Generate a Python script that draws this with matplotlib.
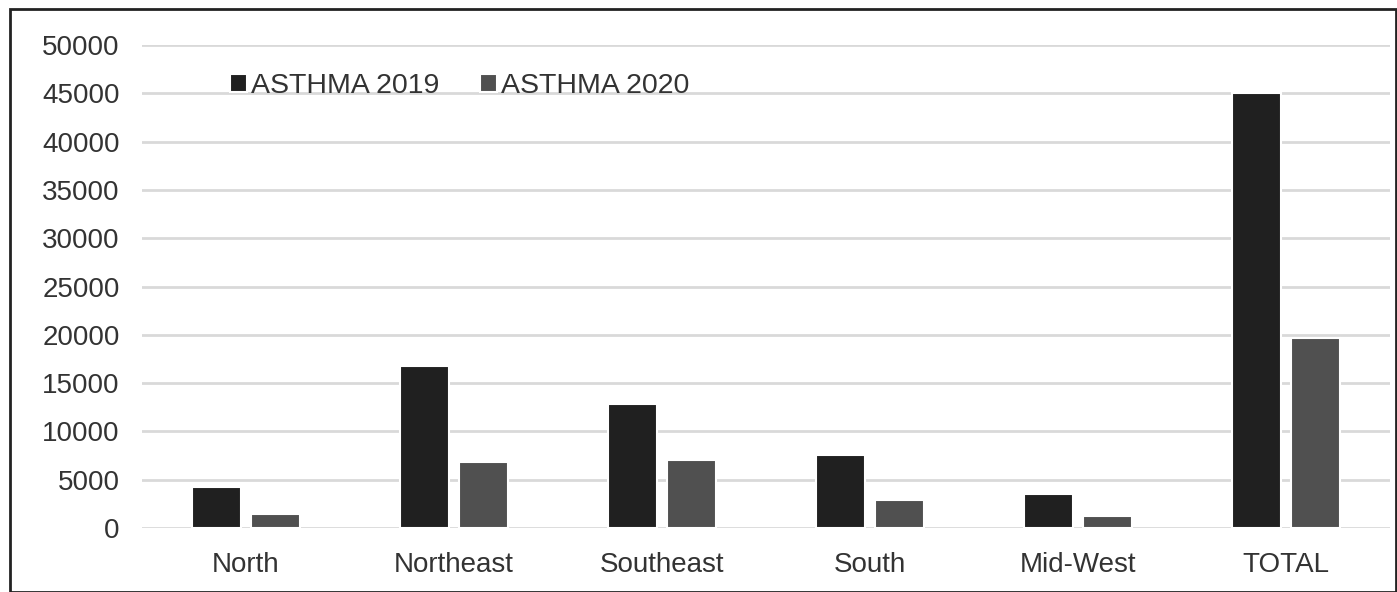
"""
Asthma cases by region, 2019 vs 2020
"""

import matplotlib.pyplot as plt
import numpy as np
from matplotlib.patches import Rectangle

regions = ['North', 'Northeast', 'Southeast', 'South', 'Mid-West', 'TOTAL']
asthma_2019 = [4300, 16800, 12850, 7550, 3500, 45000]
asthma_2020 = [1450, 6850, 7050, 2900, 1250, 19650]
yticks = [0, 5000, 10000, 15000, 20000, 25000, 30000, 35000, 40000, 45000, 50000]

plt.rcParams['font.family'] = ['Liberation Sans', 'DejaVu Sans']

fig = plt.figure(figsize=(13.97, 5.92), dpi=100)
ax = fig.add_axes([0.1016, 0.108, 0.8934, 0.816])

x = np.arange(len(regions))
w = 0.235
ax.bar(x - 0.142, asthma_2019, w, color='#202020', edgecolor='white', linewidth=1.5,
       label='ASTHMA 2019', zorder=3)
ax.bar(x + 0.142, asthma_2020, w, color='#505050', edgecolor='white', linewidth=1.5,
       label='ASTHMA 2020', zorder=3)

# Format the plot
ax.set_xlim(-0.5, len(regions) - 0.5)
ax.set_ylim(0, 50000)
ax.set_yticks(yticks)
ax.set_xticks(x)
ax.set_xticklabels(regions)
ax.tick_params(axis='both', length=0, labelsize=20, labelcolor='#333333')
ax.tick_params(axis='x', pad=17)
ax.tick_params(axis='y', pad=16)
ax.grid(axis='y', color='#d9d9d9', linewidth=2, zorder=0)
for s in ax.spines.values():
    s.set_visible(False)

ax.legend(loc='upper left', bbox_to_anchor=(0.05, 0.995), ncol=2, frameon=False,
          fontsize=20.5, handlelength=0.6, handleheight=0.6, handletextpad=0.15,
          columnspacing=1.4, labelcolor='#333333')

# Outer border
fig.patches.append(Rectangle((0.007, 0.0), 0.992, 0.985, transform=fig.transFigure,
                             fill=False, edgecolor='#222222', linewidth=2))

fig.savefig('out.png', dpi=100)
